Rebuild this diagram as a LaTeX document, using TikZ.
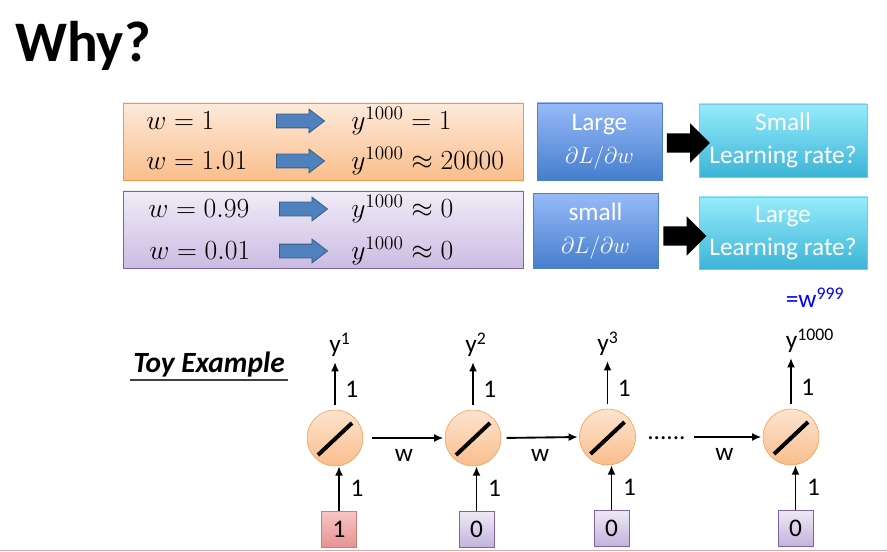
\documentclass[tikz,border=0pt]{standalone}
\usepackage{amsmath}
\usepackage{fontspec}
\setmainfont{Carlito}
\usetikzlibrary{shapes.arrows,arrows.meta}

\begin{document}
\begin{tikzpicture}[x=0.75pt,y=0.75pt,yscale=-1,xscale=1,
  arr/.style={-{Latex[length=7pt,width=6pt]}, line width=1.4pt},
  lbl/.style={font=\fontsize{19}{22}\selectfont, inner sep=1pt},
  mth/.style={font=\fontsize{21}{25}\selectfont, anchor=west, inner sep=0.75pt},
  boxtxt/.style={font=\fontsize{19}{25}\selectfont, text=white, align=center, inner sep=0pt},
  bluebox/.style={boxtxt, draw={rgb,255:red,79;green,129;blue,189}, top color={rgb,255:red,150;green,186;blue,248}, bottom color={rgb,255:red,70;green,126;blue,205}, minimum width=93.75pt},
  cyanbox/.style={boxtxt, draw={rgb,255:red,120;green,200;blue,222}, top color={rgb,255:red,150;green,236;blue,251}, bottom color={rgb,255:red,60;green,180;blue,214}, minimum width=126pt},
  bluearrow/.style={single arrow, draw={rgb,255:red,56;green,93;blue,138}, fill={rgb,255:red,79;green,129;blue,189}, line width=0.6pt, minimum height=36pt, minimum width=0pt, inner xsep=0pt, inner ysep=4.875pt, single arrow head extend=3.75pt, single arrow tip angle=75},
  blkarrow/.style={single arrow, fill=black, minimum height=32.25pt, minimum width=0pt, inner xsep=0pt, inner ysep=7.1pt, single arrow head extend=7.5pt},
  neuron/.style={circle, draw={rgb,255:red,247;green,150;blue,70}, top color={rgb,255:red,253;green,228;blue,207}, bottom color={rgb,255:red,249;green,190;blue,141}, minimum size=42pt, inner sep=0pt, path picture={\draw[black, line width=3pt] ([xshift=-12.75pt,yshift=-12.75pt]path picture bounding box.center) -- ([xshift=12.75pt,yshift=11.25pt]path picture bounding box.center);}},
  inred/.style={lbl, draw={rgb,255:red,208;green,124;blue,122}, top color={rgb,255:red,247;green,198;blue,198}, bottom color={rgb,255:red,232;green,146;blue,146}, minimum width=26.25pt, minimum height=27pt, inner sep=0pt},
  inpurple/.style={lbl, draw={rgb,255:red,128;green,100;blue,162}, top color={rgb,255:red,238;green,234;blue,245}, bottom color={rgb,255:red,195;green,179;blue,221}, minimum width=26.25pt, minimum height=27pt, inner sep=0pt}
]
\useasboundingbox (0,0) rectangle (887,552);

% Title
\draw (15,62) node [anchor=base west, inner sep=0pt, font=\fontsize{43}{50}\selectfont\bfseries] (ttl) {Why?};

%Shape: Rectangle (orange)
\draw [draw={rgb,255:red,247;green,150;blue,70}, top color={rgb,255:red,253;green,234;blue,218}, bottom color={rgb,255:red,250;green,190;blue,140}] (123,103) rectangle (523,180);
%Shape: Rectangle (purple)
\draw [draw={rgb,255:red,128;green,100;blue,162}, top color={rgb,255:red,240;green,236;blue,247}, bottom color={rgb,255:red,203;green,188;blue,226}] (123,191) rectangle (523,268);

% Text Node
\draw (145,121) node [mth] (wa) {$w=1$};
\draw (145,161) node [mth] (wb) {$w=1.01$};
\draw (147,209) node [mth] (wc) {$w=0.99$};
\draw (148,251) node [mth] (wd) {$w=0.01$};
\draw (350,121) node [mth] (ya) {$y^{1000}=1$};
\draw (350,161) node [mth] (yb) {$y^{1000}\approx 20000$};
\draw (350,209) node [mth] (yc) {$y^{1000}\approx 0$};
\draw (350,251) node [mth] (yd) {$y^{1000}\approx 0$};

%Block Arrows
\draw (296,121) node [bluearrow] (ba) {};
\draw (296,161) node [bluearrow] (bb) {};
\draw (299,209) node [bluearrow] (bc) {};
\draw (299,251) node [bluearrow] (bd) {};

% Gradient boxes
\draw (599.5,141.5) node [bluebox, minimum height=57.75pt] (lg1) {Large\\$\partial L/\partial w$};
\draw (783,140.5) node [cyanbox, minimum height=54.75pt] (lr1) {Small\\Learning rate?};
\draw (683.5,143) node [blkarrow] (k1) {};
\draw (595.5,231) node [bluebox, minimum height=56.25pt] (lg2) {small\\$\partial L/\partial w$};
\draw (783,233) node [cyanbox, minimum height=54pt] (lr2) {Large\\Learning rate?};
\draw (680,236) node [blkarrow] (k2) {};

% Text Node
\draw (815,298) node [lbl, text={rgb,255:red,0;green,0;blue,255}] (wpow) {=w\textsuperscript{999}};
\draw (130,372) node [anchor=base west, inner sep=2.25pt, font=\fontsize{22}{26}\selectfont\bfseries\itshape] (toy) {Toy Example};
\draw [line width=1.1pt, color={rgb,255:red,64;green,64;blue,64}] (toy.south west) -- (toy.south east);

% Neurons
\draw (335,438) node [neuron] (n1) {};
\draw (473,438) node [neuron] (n2) {};
\draw (607.5,437) node [neuron] (n3) {};
\draw (791,437) node [neuron] (n4) {};

% Inputs
\draw (339,529) node [inred] (i1) {1};
\draw (476.5,529) node [inpurple] (i2) {0};
\draw (611.5,528) node [inpurple] (i3) {0};
\draw (795.5,528) node [inpurple] (i4) {0};

% Outputs
\draw (340,357) node [lbl, anchor=south, inner sep=0pt] (y1) {y\textsuperscript{1}};
\draw (476,357) node [lbl, anchor=south, inner sep=0pt] (y2) {y\textsuperscript{2}};
\draw (608,356) node [lbl, anchor=south, inner sep=0pt] (y3) {y\textsuperscript{3}};
\draw (810,353) node [lbl, anchor=south, inner sep=0pt] (y4) {y\textsuperscript{1000}};

%Straight Lines (up)
\draw [arr, shorten <=3.75pt, shorten >=3.75pt] (n1.north) -- (n1.north |- y1.south) node [lbl, pos=0.39, right=6pt] {1};
\draw [arr, shorten <=3.75pt, shorten >=3.75pt] (n2.north) -- (n2.north |- y2.south) node [lbl, pos=0.39, right=6pt] {1};
\draw [arr, shorten <=3.75pt, shorten >=3.75pt] (n3.north) -- (n3.north |- y3.south) node [lbl, pos=0.39, right=6pt] {1};
\draw [arr, shorten <=3.75pt, shorten >=3.75pt] (n4.north) -- (n4.north |- y4.south) node [lbl, pos=0.39, right=6pt] {1};

%Straight Lines (inputs)
\draw [arr] (i1.north) -- (i1.north |- n1.south) node [lbl, midway, right=7pt] {1};
\draw [arr] (i2.north) -- (i2.north |- n2.south) node [lbl, midway, right=7pt] {1};
\draw [arr] (i3.north) -- (i3.north |- n3.south) node [lbl, midway, right=7pt] {1};
\draw [arr] (i4.north) -- (i4.north |- n4.south) node [lbl, midway, right=7pt] {1};

%Straight Lines (recurrent)
\draw [arr, shorten <=6.75pt, shorten >=1pt] (n1.east) -- (n2.west) node [lbl, midway, below=7pt] {w};
\draw [arr, shorten <=4pt, shorten >=1pt] (n2.east) -- (n3.west) node [lbl, midway, below=7pt] {w};
\draw (647,439) node [lbl, anchor=base west, inner sep=0pt] (dots) {......};
\draw [arr, shorten <=6pt, shorten >=1pt] (dots.east |- n4.west) -- (n4.west) node [lbl, midway, below=7pt] {w};

%Bottom rule
\draw [line width=1pt, color={rgb,255:red,217;green,170;blue,170}] (0,550.5) -- (887,550.5);

\end{tikzpicture}
\end{document}
